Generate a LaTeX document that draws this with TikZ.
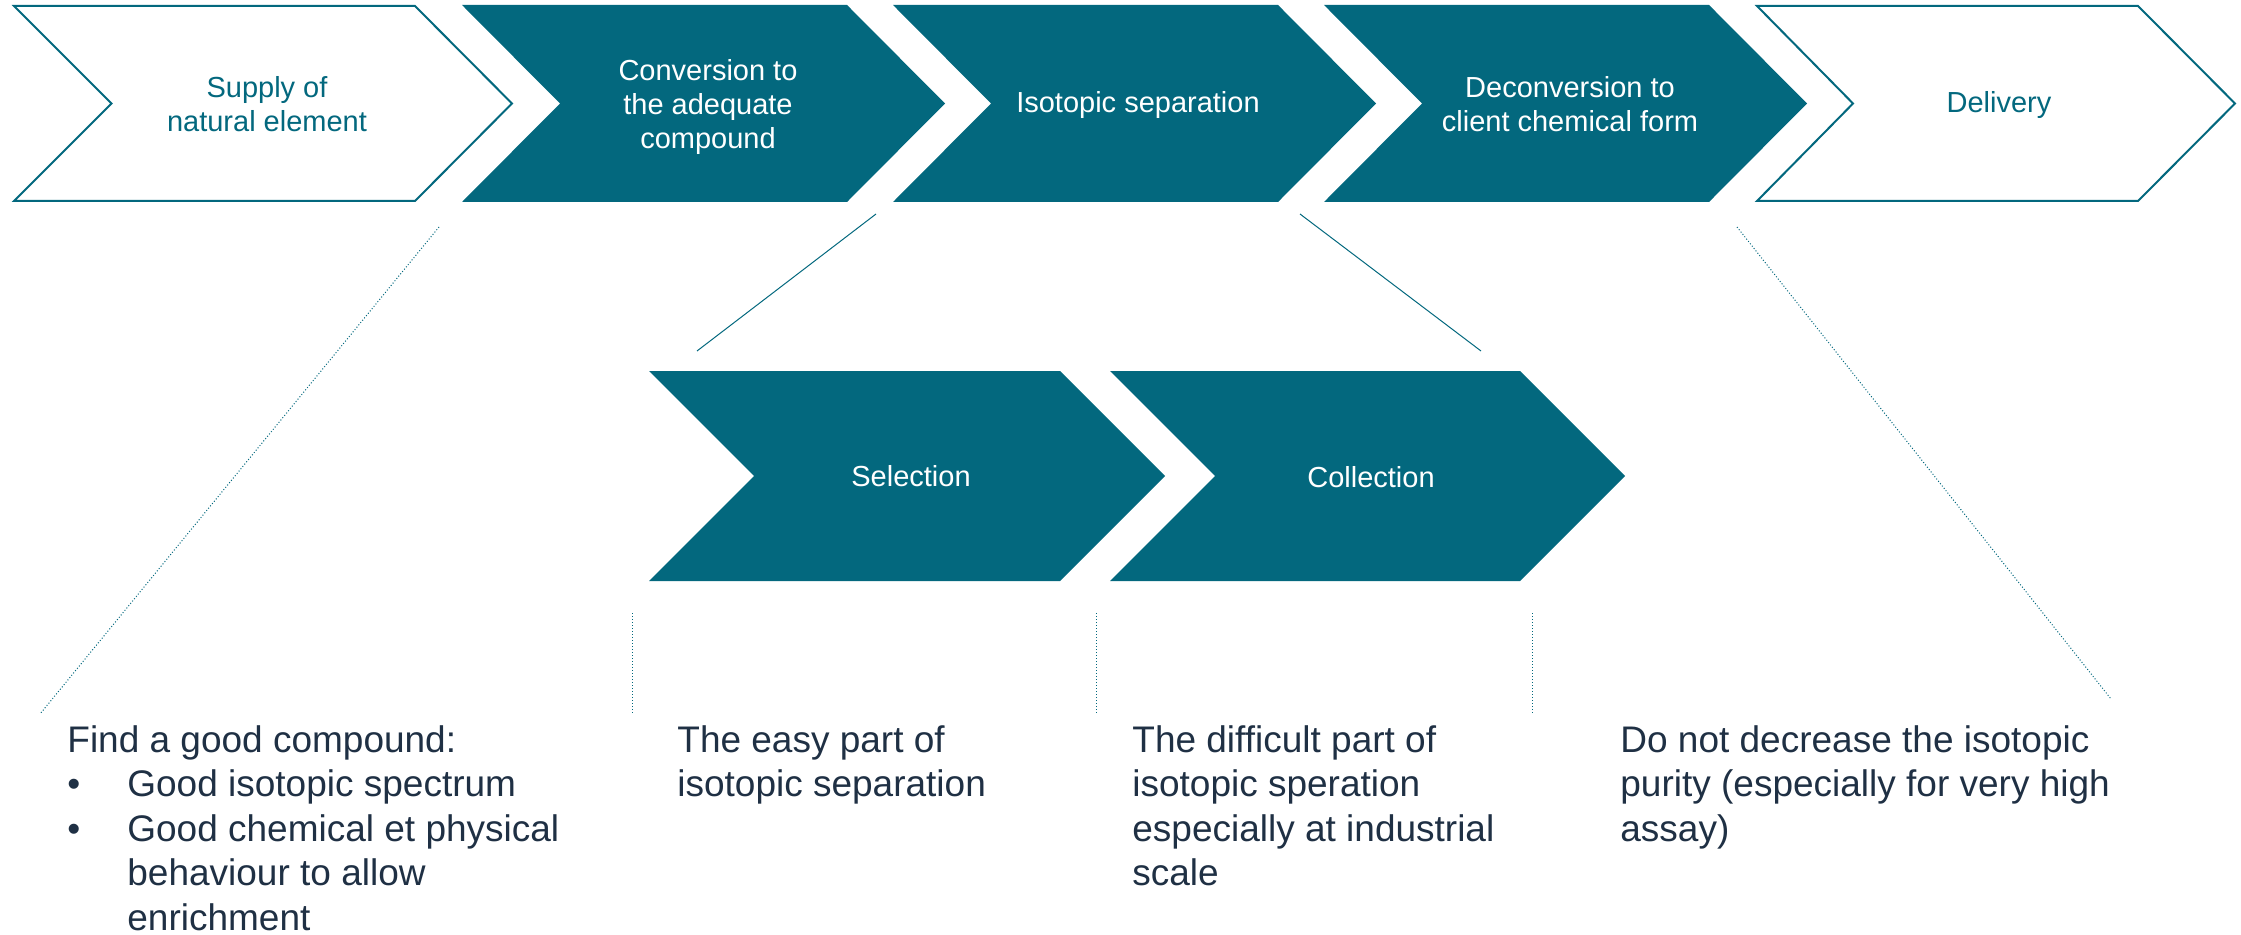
\documentclass[tikz,border=0pt]{standalone}
\usepackage{fontspec}
\setmainfont{Liberation Sans}
\definecolor{petrol}{RGB}{3,104,126}
\definecolor{inkblue}{RGB}{31,48,68}
\begin{document}
\begin{tikzpicture}[x=0.5pt,y=-0.5pt]
\tikzset{
  stage/.style={fill=petrol},
  openstage/.style={draw=petrol, line width=1pt, fill=white, line join=miter},
  % multi-line labels are placed by the baseline of their last line
  toplabel/.style={font=\fontsize{14.5}{17}\selectfont, align=center, inner sep=0pt, anchor=base},
  note/.style={font=\fontsize{18.5}{22.25}\selectfont, align=left, text=inkblue, inner sep=0pt, anchor=base west},
  leader/.style={draw=petrol, line width=0.5pt},
  dotleader/.style={leader, dash pattern=on 0.5pt off 1pt},
}
\useasboundingbox (0,0) rectangle (2241,935);

% main process chain
\path[openstage] (14,6) -- (415,6) -- (512,103.5) -- (415,201) -- (14,201) -- (111.5,103.5) -- cycle;
\path[stage] (462,5) -- (847,5) -- (945,103.5) -- (847,202) -- (462,202) -- (560,103.5) -- cycle;
\path[stage] (893,5) -- (1278,5) -- (1376,103.5) -- (1278,202) -- (893,202) -- (991,103.5) -- cycle;
\path[stage] (1324,5) -- (1709,5) -- (1807,103.5) -- (1709,202) -- (1324,202) -- (1422,103.5) -- cycle;
\path[openstage] (1757,6) -- (2138,6) -- (2235,103.5) -- (2138,201) -- (1757,201) -- (1853,103.5) -- cycle;

\node[toplabel, text=petrol] (supply) at (267,132) {Supply of\\natural element};
\node[toplabel, text=white] (conv) at (708,149) {Conversion to\\the adequate\\compound};
\node[toplabel, text=white] (sep) at (1138,113) {Isotopic separation};
\node[toplabel, text=white] (deconv) at (1570,132) {Deconversion to\\client chemical form};
\node[toplabel, text=petrol] (deliv) at (1999,113) {Delivery};

% detail of the separation step
\path[stage] (649,371) -- (1060,371) -- (1165,476) -- (1060,581) -- (649,581) -- (754,476) -- cycle;
\path[stage] (1110,371) -- (1520,371) -- (1625,476) -- (1520,581) -- (1110,581) -- (1215,476) -- cycle;
\node[toplabel, text=white] (selec) at (911,486) {Selection};
\node[toplabel, text=white] (collec) at (1371,487) {Collection};

% leader lines
\coordinate (a1) at (439,227); \coordinate (a2) at (40,714);
\coordinate (b1) at (876,214); \coordinate (b2) at (697,351);
\coordinate (c1) at (1300,214); \coordinate (c2) at (1481,351);
\coordinate (d1) at (1737,227); \coordinate (d2) at (2111,699);
\draw[dotleader] (a1) -- (a2);
\draw[leader] (b1) -- (b2);
\draw[leader] (c1) -- (c2);
\draw[dotleader] (d1) -- (d2);
\coordinate (v1t) at (632,613); \coordinate (v1b) at (632,713);
\coordinate (v2t) at (1096,613); \coordinate (v2b) at (1096,713);
\coordinate (v3t) at (1532,613); \coordinate (v3b) at (1532,713);
\draw[dotleader] (v1t) -- (v1b);
\draw[dotleader] (v2t) -- (v2b);
\draw[dotleader] (v3t) -- (v3b);

% notes
\node[note] (n1) at (67,930) {Find a good compound:\\
  \makebox[30pt][l]{•}Good isotopic spectrum\\
  \makebox[30pt][l]{•}Good chemical et physical\\
  \hspace*{30pt}behaviour to allow\\
  \hspace*{30pt}enrichment};
\node[note] (n2) at (677,796.5) {The easy part of\\isotopic separation};
\node[note] (n3) at (1132,885.5) {The difficult part of\\isotopic speration\\especially at industrial\\scale};
\node[note] (n4) at (1620,841) {Do not decrease the isotopic\\purity (especially for very high\\assay)};
\end{tikzpicture}
\end{document}
